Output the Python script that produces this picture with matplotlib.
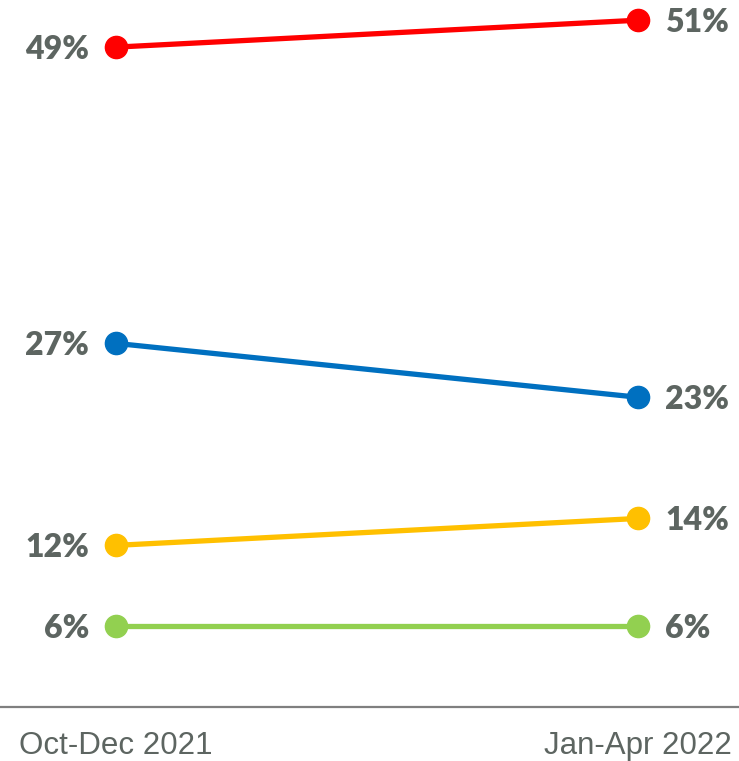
import matplotlib.pyplot as plt

# Share of responses per period
periods = ['Oct-Dec 2021', 'Jan-Apr 2022']
red = [49, 51]
blue = [27, 23]
yellow = [12, 14]
green = [6, 6]

series = [
    (red, '#ff0000'),
    (blue, '#0070c0'),
    (yellow, '#ffc000'),
    (green, '#92d050'),
]

label_color = '#5d6561'

fig = plt.figure(figsize=(7.39, 7.61), dpi=100)
ax = fig.add_axes([0, 0.071, 1, 0.929])

x = [0, 1]
for values, color in series:
    ax.plot(x, values, color=color, linewidth=3.8, marker='o',
            markersize=16, clip_on=False, solid_capstyle='round', zorder=3)
    ax.annotate(f'{values[0]}%', (0, values[0]), xytext=(-27, -2),
                textcoords='offset pixels', ha='right', va='center',
                fontsize=23, fontweight='heavy', family='Lato',
                color=label_color)
    ax.annotate(f'{values[1]}%', (1, values[1]), xytext=(27, -2),
                textcoords='offset pixels', ha='left', va='center',
                fontsize=23, fontweight='heavy', family='Lato',
                color=label_color)

ax.set_xlim(-116 / 522, 1 + 101 / 522)
ax.set_ylim(0, 52.5)

for side in ['top', 'left', 'right']:
    ax.spines[side].set_visible(False)
ax.spines['bottom'].set_color('#7f7f7f')
ax.spines['bottom'].set_linewidth(1.6)

ax.set_yticks([])
ax.set_xticks(x)
ax.set_xticklabels(periods, fontsize=22.5, family='Liberation Sans',
                   color=label_color)
ax.tick_params(axis='x', length=0, pad=17)

fig.savefig('out.png', dpi=100)
